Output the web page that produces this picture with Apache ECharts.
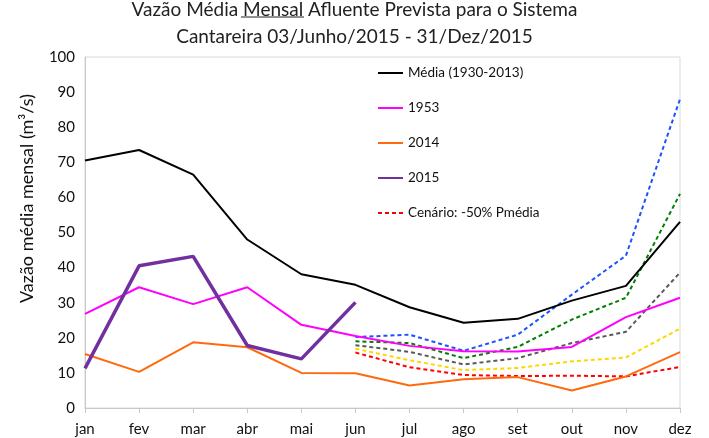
<!DOCTYPE html>
<html><head><meta charset="utf-8">
<script src="https://cdn.jsdelivr.net/npm/echarts@6/dist/echarts.min.js"></script>
<style>html,body{margin:0;padding:0;background:#fff}#c{width:709px;height:438px}</style>
</head><body><div id="c"></div>
<script>
const months = ['jan','fev','mar','abr','mai','jun','jul','ago','set','out','nov','dez'];
const media = [70.5, 73.5, 66.5, 48, 38.1, 35.1, 28.7, 24.3, 25.4, 30.6, 34.8, 53];
const y1953 = [26.8, 34.4, 29.6, 34.4, 23.7, 20.5, 17.7, 16.2, 16.1, 17.4, 25.9, 31.4];
const y2014 = [15.4, 10.3, 18.7, 17.3, 10.0, 9.9, 6.4, 8.2, 8.8, 5.0, 9.0, 15.9];
const y2015 = [11.3, 40.5, 43.2, 17.8, 14.0, 30.1, null, null, null, null, null, null];
const cenBlue   = [null, null, null, null, null, 20.2, 20.9, 16.3, 20.9, 32.3, 43.4, 88];
const cenGreen  = [null, null, null, null, null, 19.0, 18.5, 14.2, 17.4, 25.2, 31.4, 61];
const cenGray   = [null, null, null, null, null, 17.9, 16.0, 12.4, 14.2, 18.5, 21.7, 38.6];
const cenYellow = [null, null, null, null, null, 16.9, 13.6, 10.8, 11.4, 13.3, 14.4, 22.6];
const cenRed    = [null, null, null, null, null, 15.8, 11.6, 9.4, 9.1, 9.2, 9.0, 11.7];
const yTicks = [0, 10, 20, 30, 40, 50, 60, 70, 80, 90, 100];

const FONT = 'Lato, "Open Sans", sans-serif';
function line(name, data, color, width, dashed, z) {
  return {
    name, type: 'line', data, symbol: 'none', showSymbol: false, z: z || 2,
    lineStyle: { color, width, type: dashed ? [4, 3] : 'solid' },
    itemStyle: { color }, connectNulls: false, animation: false
  };
}
const chart = echarts.init(document.getElementById('c'), null, { renderer: 'canvas' });
chart.setOption({
  backgroundColor: '#fff',
  animation: false,
  title: {
    text: 'Vazão Média Mensal Afluente Prevista para o Sistema\nCantareira 03/Junho/2015 - 31/Dez/2015',
    left: 'center', top: -4, padding: 0,
    textStyle: { fontFamily: FONT, fontSize: 19, fontWeight: 'normal', color: '#222', lineHeight: 27 }
  },
  graphic: [{
    type: 'line', shape: { x1: 241, y1: 17, x2: 304, y2: 17 },
    style: { stroke: '#222', lineWidth: 1.2 }
  }],
  legend: {
    orient: 'vertical', left: 372, top: 61, itemGap: 21, itemWidth: 25, itemHeight: 14,
    data: ['Média (1930-2013)', '1953', '2014', '2015', 'Cenário: -50% Pmédia'],
    itemStyle: { opacity: 0, borderWidth: 0 },
    textStyle: { fontFamily: FONT, fontSize: 13.5, color: '#111' }
  },
  grid: { left: 85, right: 29, top: 57, bottom: 30, show: true, borderColor: '#d9d9d9', borderWidth: 1, containLabel: false },
  xAxis: {
    type: 'category', data: months, boundaryGap: false,
    axisLine: { lineStyle: { color: '#c8c8c8' } },
    axisTick: { show: true, length: 5, lineStyle: { color: '#c8c8c8' } },
    axisLabel: { fontFamily: FONT, fontSize: 15, color: '#111', margin: 14 }
  },
  yAxis: {
    type: 'value', min: 0, max: 100, interval: 10,
    name: 'Vazão média mensal (m³/s)', nameLocation: 'middle', nameGap: 49,
    nameTextStyle: { fontFamily: FONT, fontSize: 18, color: '#111', padding: [0, 0, 0, 68] },
    axisLine: { show: true, lineStyle: { color: '#c8c8c8' } },
    axisTick: { show: false },
    splitLine: { show: false },
    axisLabel: { fontFamily: FONT, fontSize: 15, color: '#111', margin: 10,
      formatter: v => yTicks.includes(v) ? String(v) : '' }
  },
  series: [
    line('Média (1930-2013)', media, '#000000', 2, false, 3),
    line('1953', y1953, '#ff00ff', 2, false, 3),
    line('2014', y2014, '#ff6a10', 2, false, 3),
    line('2015', y2015, '#7030a0', 3.5, false, 4),
    line('Cenário: -50% Pmédia', cenRed, '#ff0000', 2, true, 2),
    line('cen_azul', cenBlue, '#1a53ff', 2, true, 2),
    line('cen_verde', cenGreen, '#008000', 2, true, 2),
    line('cen_cinza', cenGray, '#595959', 2, true, 2),
    line('cen_amarelo', cenYellow, '#ffd700', 2, true, 2)
  ]
});
</script></body></html>
